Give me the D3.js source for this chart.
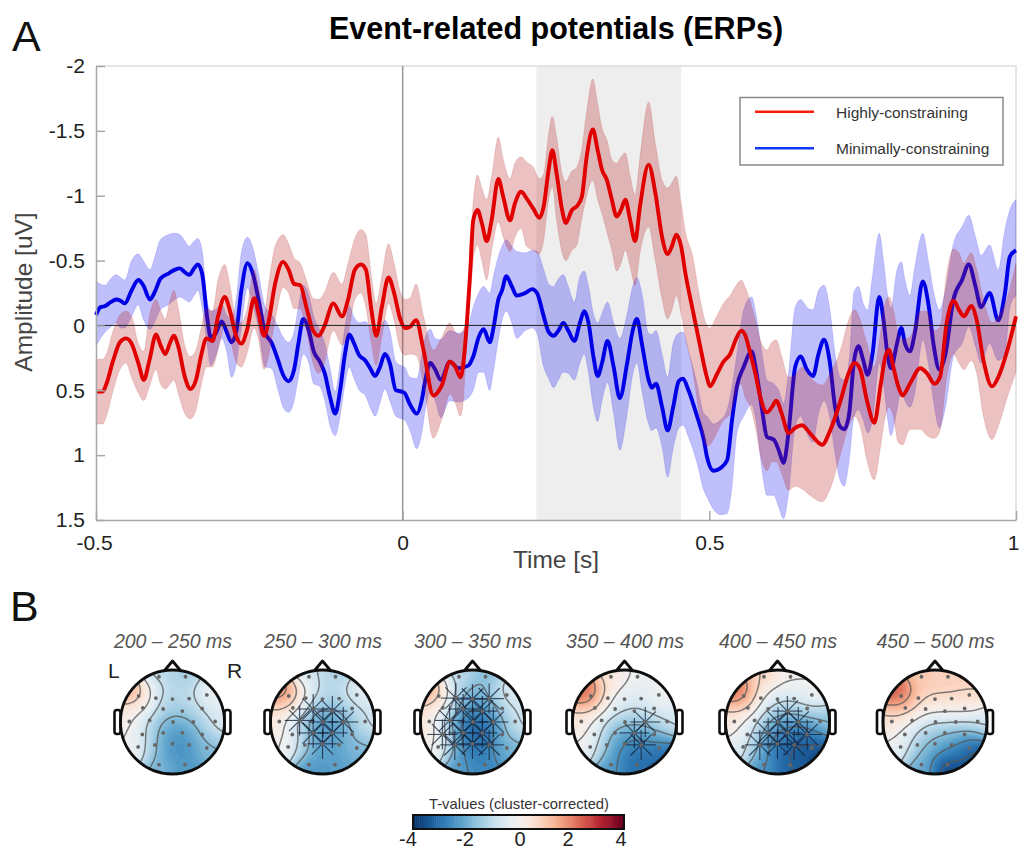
<!doctype html>
<html lang="en">

<head>
    <meta charset="utf-8">
    <title>Event-related potentials (ERPs)</title>
    <style>
        body {
            margin: 0;
            background: #fff;
        }

        svg {
            display: block;
            font-family: "Liberation Sans", Arial, sans-serif;
        }

        .tick line,
        .domain {
            stroke: #a8a8a8;
            stroke-width: 1.5;
        }

        .tick text {
            font-size: 21px;
            fill: #222;
        }
    </style>
</head>

<body>
    <svg id="chart" width="1019" height="850"></svg>
    <script src="https://d3js.org/d3.v7.min.js"></script>
    <script>

        // ERP traces: time in ms, amplitude in uV
        const redTime = [
            -500, -489, -483, -472, -461, -451, -442, -431, -422, -413,
            -402, -395, -387, -379, -373, -366, -355, -346, -337, -328,
            -320, -310, -301, -290, -282, -271, -263, -254, -242, -235,
            -226, -219, -208, -195, -186, -177, -167, -157, -146, -137,
            -128, -113, -99, -89, -78, -68, -60, -51, -43, -34,
            -23, -14, -4, 4, 12,
            22, 34, 50, 64, 77, 86, 94, 99, 105, 110,
            115, 122, 129, 137, 145, 156, 164, 175, 183, 193,
            202, 213, 223, 230, 238, 244, 251, 260, 266, 276,
            284, 292, 300, 310, 318, 325, 333, 341, 349, 356,
            363, 371, 379, 387, 401, 412, 423, 432, 439, 446,
            454, 461, 472, 485, 496,
            501, 512, 523, 534, 544, 552, 558, 567, 575, 583,
            594, 602, 609, 618, 629, 640, 651, 664, 684, 697,
            714, 727, 737, 746, 757, 769, 779, 787, 793, 800,
            808, 815, 827, 844, 855, 867, 876, 887, 898, 907,
            915, 927, 936, 947, 961, 971, 986, 1000
        ];
        const redMean = [
            .51, .51, .45, .27, .13, .10, .14, .29, .42, .27,
            .07, .15, .22, .13, .08, .16, .40, .49, .42, .22,
            .10, .12, -.07, -.22, -.12, .09, .14, .04, -.21, -.09,
            .08, -.02, -.32, -.49, -.43, -.32, -.31, -.14, .04, .08,
            .01, -.17, -.07, -.20, -.43, -.47, -.43, -.12, .08, -.14,
            -.37, -.25, -.05, .02, .01,
            -.04, .19, .54, .46, .28, .32, .40, .29, -.04, -.40,
            -.81, -.89, -.79, -.65, -.81, -1.13, -.99, -.81, -.94, -1.03,
            -.98, -.90, -.83, -.92, -1.20, -1.35, -1.17, -.89, -.79, -.89,
            -.92, -.99, -1.30, -1.51, -1.35, -1.20, -1.12, -.97, -.84, -.89,
            -.97, -.81, -.65, -.92, -1.24, -1.02, -.68, -.55, -.61, -.70,
            -.61, -.40, -.14, .16, .40,
            .47, .38, .28, .22, .10, .04, .07, .22, .37, .55,
            .67, .63, .58, .68, .83, .79, .77, .83, .92, .81,
            .58, .37, .29, .34, .58, .75, .47, .24, .19, .32,
            .47, .54, .45, .33, .37, .45, .40, -.02, -.19, -.12,
            -.07, -.15, -.04, .27, .47, .40, .19, -.07
        ];
        const redUpper = [
            .26, .26, .22, .04, -.08, -.11, -.07, .14, .20, -.07,
            -.20, -.12, -.05, -.20, -.27, -.14, .16, .24, .19, .01,
            -.13, -.11, -.35, -.47, -.32, -.04, -.02, -.12, -.43, -.30,
            -.07, -.30, -.61, -.70, -.63, -.52, -.48, -.35, -.21, -.20,
            -.25, -.41, -.32, -.48, -.67, -.74, -.70, -.38, -.17, -.38,
            -.63, -.48, -.26, -.20, -.21,
            -.32, -.07, .19, .09, -.02, .05, .07, .03, -.04, -.60,
            -.95, -1.16, -1.06, -.97, -1.15, -1.45, -1.28, -1.13, -1.25, -1.30,
            -1.26, -1.22, -1.13, -1.17, -1.48, -1.61, -1.45, -1.17, -1.11, -1.19,
            -1.22, -1.36, -1.65, -1.90, -1.71, -1.52, -1.43, -1.28, -1.25, -1.30,
            -1.33, -1.15, -1.01, -1.30, -1.72, -1.40, -1.12, -1.06, -1.10, -1.15,
            -.94, -.72, -.55, -.20, 0,
            .02, -.07, -.17, -.23, -.31, -.35, -.30, -.18, -.04, .11,
            .19, .13, .11, .24, .40, .38, .32, .40, .46, .37,
            .19, -.04, -.12, -.04, .14, .32, .06, -.18, -.22, -.12,
            .07, .11, .09, -.11, -.11, .04, .01, -.40, -.59, -.56,
            -.48, -.56, -.43, -.20, -.02, -.07, -.22, -.48
        ];
        const redLower = [
            .76, .76, .70, .50, .34, .29, .40, .52, .58, .47,
            .34, .45, .49, .45, .42, .52, .68, .72, .65, .45,
            .32, .32, .19, 0, .09, .29, .32, .22, .02, .11,
            .34, .24, -.04, -.29, -.25, -.13, -.13, .04, .29, .37,
            .29, .04, .15, .06, -.20, -.25, -.14, .14, .31, .09,
            -.17, -.04, .18, .23, .22,
            .23, .45, .87, .72, .53, .60, .70, .57, .06, -.20,
            -.50, -.62, -.50, -.35, -.58, -.80, -.68, -.57, -.68, -.75,
            -.61, -.58, -.55, -.66, -.97, -1.07, -.81, -.56, -.50, -.58,
            -.62, -.82, -1.00, -1.12, -.97, -.86, -.72, -.58, -.42, -.48,
            -.58, -.45, -.31, -.56, -.76, -.50, -.20, -.05, -.12, -.23,
            -.09, .09, .32, .72, .93,
            .92, .83, .73, .68, .52, .45, .55, .63, .78, .99,
            1.12, 1.05, 1.05, 1.14, 1.27, 1.24, 1.26, 1.31, 1.36, 1.26,
            .99, .78, .70, .78, 1.04, 1.19, .94, .70, .63, .70,
            .90, .92, .80, .80, .85, .87, .81, .40, .22, .29,
            .34, .27, .37, .70, .88, .78, .55, .36
        ];

        const blueTime = [
            -500, -493, -485, -476, -467, -460, -453, -442, -431, -423,
            -412, -404, -395, -382, -371, -363, -355, -348, -340, -334,
            -327, -319, -313, -306, -295, -287, -279, -271, -263, -253,
            -245, -235, -224, -214, -203, -195, -186, -177, -170, -162,
            -153, -145, -135, -127, -118, -110, -102, -94, -87, -80,
            -71, -61, -53, -45, -37, -29, -21, -11, -2, 3,
            12,
            23, 31, 37, 45, 53, 62, 77, 91, 107, 115,
            124, 132, 142, 148, 156, 162, 169, 178, 186, 200,
            211, 219, 230, 238, 246, 254, 262, 270, 280, 289,
            296, 303, 311, 318, 325, 334, 344, 354, 366, 375,
            382, 390, 401, 406, 413, 423, 432, 441, 450, 457,
            466, 480, 491,
            496, 507, 518, 529, 537, 545, 556, 569, 576, 586,
            594, 605, 613, 621, 629, 640, 649, 659, 669, 678,
            687, 696, 705, 713, 720, 728, 736, 743, 751, 758,
            766, 777, 784, 791, 796, 806, 813, 819, 827, 835,
            848, 857, 866, 875, 885, 898, 912, 923, 934, 943,
            957, 971, 982, 990, 1000
        ];
        const blueMean = [
            -.08, -.14, -.15, -.18, -.20, -.19, -.17, -.27, -.35, -.31,
            -.20, -.26, -.36, -.40, -.43, -.44, -.41, -.39, -.44, -.47,
            -.40, -.07, .09, .07, -.03, .05, .13, .04, -.27, -.48,
            -.41, -.20, .06, .13, .27, .38, .43, .34, .14, -.05,
            .04, .20, .28, .37, .56, .68, .50, .22, .07, .13,
            .23, .27, .33, .39, .32, .22, .29, .50, .51, .52,
            .61,
            .68, .58, .42, .29, .34, .42, .28, .33, .31, .24,
            .09, .03, .13, .02, -.20, -.27, -.38, -.30, -.23, -.25,
            -.28, -.25, -.07, .05, .08, .04, -.02, .04, .12, -.02,
            -.11, -.02, .24, .39, .29, .12, .32, .56, .29, .04,
            -.05, .14, .42, .48, .45, .63, .81, .63, .43, .41,
            .50, .70, .88,
            1.01, 1.12, 1.10, 1.04, .73, .47, .32, .20, .34, .65,
            .86, .88, .96, 1.06, .83, .32, .24, .34, .39, .22,
            .11, .27, .63, .78, .80, .68, .27, .16, .27, .38,
            .22, -.22, -.04, .24, .33, .14, .02, .14, .20, .06,
            -.34, -.17, .16, .34, .22, -.20, -.35, -.47, -.30, -.14,
            -.25, -.04, -.25, -.53, -.58
        ];
        const blueUpper = [
            -.34, -.32, -.31, -.36, -.39, -.37, -.35, -.50, -.55, -.50,
            -.43, -.53, -.66, -.70, -.71, -.70, -.65, -.61, -.65, -.67,
            -.58, -.20, -.11, -.12, -.16, -.08, -.05, -.22, -.56, -.68,
            -.61, -.40, -.14, -.09, .01, .09, .13, .05, -.14, -.31,
            -.23, -.07, .04, .14, .34, .51, .29, .01, -.15, -.07,
            -.02, -.03, .01, .06, .04, -.04, .04, .28, .31, .32,
            .40,
            .41, .24, .09, .03, .10, .11, .04, .06, 0, -.14,
            -.25, -.30, -.25, -.38, -.53, -.61, -.66, -.61, -.57, -.56,
            -.58, -.57, -.43, -.32, -.30, -.36, -.39, -.30, -.18, -.38,
            -.42, -.30, -.09, -.02, -.09, -.18, -.02, .10, -.09, -.30,
            -.37, -.25, .06, .07, .04, .22, .40, .14, .06, .05,
            .20, .45, .68,
            .70, .76, .73, .65, .47, .22, -.12, -.22, -.09, .22,
            .42, .45, .50, .60, .37, -.14, -.20, -.14, -.12, -.27,
            -.31, -.14, .22, .40, .42, .27, -.26, -.30, -.17, -.12,
            -.38, -.71, -.50, -.22, -.13, -.43, -.49, -.35, -.23, -.45,
            -.71, -.50, -.25, -.12, -.27, -.63, -.76, -.85, -.68, -.54,
            -.62, -.43, -.74, -.89, -.97
        ];
        const blueLower = [
            .16, .10, .05, .01, -.02, .02, .02, -.07, -.16, -.05,
            .03, -.03, -.12, -.16, -.20, -.22, -.20, -.18, -.23, -.27,
            -.14, .14, .31, .25, .10, .20, .40, .29, .01, -.29,
            -.17, .02, .32, .33, .50, .63, .67, .58, .40, .22,
            .29, .45, .47, .58, .78, .85, .70, .45, .32, .40,
            .50, .54, .63, .70, .60, .49, .58, .70, .72, .73,
            .81,
            .95, .83, .65, .51, .58, .71, .58, .59, .56, .50,
            .36, .36, .50, .35, .11, -.04, -.11, -.02, .10, .04,
            .02, .06, .32, .41, .48, .42, .36, .37, .42, .29,
            .22, .37, .63, .74, .58, .44, .68, .96, .68, .38,
            .29, .50, .76, .81, .79, .94, 1.17, .95, .79, .77,
            .86, 1.06, 1.27,
            1.32, 1.42, 1.46, 1.45, 1.24, .83, .70, .61, .73, 1.12,
            1.31, 1.31, 1.40, 1.49, 1.30, .78, .70, .83, .90, .68,
            .58, .70, .99, 1.19, 1.24, 1.04, .70, .65, .73, .83,
            .73, .29, .45, .73, .85, .65, .50, .58, .63, .52,
            .11, .29, .60, .79, .63, .24, .14, .01, .16, .29,
            .14, .27, .22, -.14, -.23
        ];

        const xTicks = [-500, 0, 500, 1000];
        const xTickLabels = ["-0.5", "0", "0.5", "1"];
        const yTicks = [-2, -1.5, -1, -0.5, 0, 0.5, 1, 1.5];
        const clusterWindow = [218, 454];
        const seriesNames = ["Highly-constraining", "Minimally-constraining"];

        // topographies: channel name, position on the head, T-value per channel
        const channels = ["Fp1", "Fp2", "F7", "F3", "Fz", "F4", "F8", "FC5", "FC1", "FC2", "FC6",
            "T7", "C3", "Cz", "C4", "T8", "CP5", "CP1", "CP2", "CP6", "P7", "P3", "Pz", "P4", "P8", "O1", "O2"];
        const channelX = [-.26, .25, -.65, -.32, 0, .32, .66, -.57, -.18, .19, .57,
        -.83, -.44, .01, .40, .82, -.58, -.18, .19, .57, -.66, -.34, 0, .32, .66, -.26, .24];
        const channelY = [-.87, -.87, -.50, -.46, -.44, -.45, -.52, -.27, -.25, -.21, -.26,
        -.01, -.03, 0, 0, -.01, .24, .21, .21, .24, .48, .44, .42, .44, .50, .82, .82];

        const topoLabels = ["200 – 250 ms", "250 – 300 ms", "300 – 350 ms", "350 – 400 ms", "400 – 450 ms", "450 – 500 ms"];
        const topo200 = [-1, -1.3, 1.7, -.5, -1.1, -1, -.05, .4, -1.3, -1.3, -.6,
        .3, -1.3, -2, -1.7, -.4, -.3, -1.9, -2.5, -1.3, .1, -1.8, -2.5, -2.4, -1.7, -1.8, -2.3];
        const topo250 = [-.7, -1.2, 2.3, .1, -1, -1, -.2, .8, -1.7, -1.9, -.9,
        .5, -1.6, -2.4, -2.1, -.6, .1, -1.9, -2.4, -1.3, .1, -1.6, -2.2, -2.1, -1.8, -2.3, -2.2];
        const topo300 = [-1, -1.6, 1.7, -1, -1.9, -1.5, -.3, .5, -2.5, -2.7, -.9,
        .6, -2.1, -3.1, -2.7, -.6, .3, -2.8, -3.4, -1.4, .2, -2, -3, -2.6, -1.9, -2.3, -2.6];
        const topo350 = [.5, -.1, 2.8, .4, -.2, -.4, .1, 1.1, -.8, -1, -.4,
        .5, -.9, -1.3, -1.4, -.6, .1, -1.7, -2.2, -1.6, -.1, -2, -2.8, -3, -3.2, -2.3, -3];
        const topo400 = [.8, .1, 2.6, .4, -.2, -.3, .1, 1, -1.3, -1.7, -.9,
        .5, -.9, -2, -2.3, -1.5, -.1, -1.9, -2.8, -2.8, -.4, -2.1, -3.1, -3.4, -3.6, -2.4, -3.2];
        const topo450 = [1, 1, 2.9, 1.1, 1, .9, .9, 1.3, .1, .2, .3,
        .6, -.2, -.8, -.8, -.6, .1, -1.1, -1.6, -1.9, -.2, -1.7, -2.1, -2.5, -3.6, -2, -3.6];
        const topoValues = [topo200, topo250, topo300, topo350, topo400, topo450];

        // channels in the significant cluster for each window
        const clusterChannels = [
            [],
            ["FC1", "FC2", "C3", "Cz", "C4", "CP1", "CP2", "Pz"],
            ["F3", "Fz", "F4", "FC1", "FC2", "C3", "Cz", "C4", "CP5", "CP1", "CP2", "P3", "Pz", "P4"],
            ["C4", "CP2", "P4"],
            ["FC2", "Cz", "C4", "CP1", "CP2", "CP6", "P3", "Pz", "P4"],
            []
        ];
        const contourLevels = [-3.2, -2.4, -1.6, -.8, 0, .8, 1.6, 2.4];
        const colorbarTicks = [-4, -2, 0, 2, 4];

        const svg = d3.select("#chart");

        // panel A
        const x = d3.scaleLinear().domain([-500, 1000]).range([96, 1016]);
        const y = d3.scaleLinear().domain([-2, 1.5]).range([66, 520]);

        svg.append("rect")
            .attr("x", x(clusterWindow[0]))
            .attr("y", y(-2))
            .attr("width", x(clusterWindow[1]) - x(clusterWindow[0]))
            .attr("height", y(1.5) - y(-2))
            .attr("fill", "#eeeeee");

        // light top and right edges of the box
        svg.append("path")
            .attr("d", `M${x(-500)},${y(-2)}H${x(1000)}V${y(1.5)}`)
            .attr("fill", "none")
            .attr("stroke", "#dddddd")
            .attr("stroke-width", 1.5);

        svg.append("line")
            .attr("x1", x(0)).attr("x2", x(0))
            .attr("y1", y(-2)).attr("y2", y(1.5))
            .attr("stroke", "#999999")
            .attr("stroke-width", 1.5);

        function drawSeries(time, mean, upper, lower, bandColor, lineColor) {
            const idx = d3.range(time.length);
            const band = d3.area()
                .curve(d3.curveMonotoneX)
                .x(i => x(time[i]))
                .y0(i => y(lower[i]))
                .y1(i => y(upper[i]));
            const line = d3.line()
                .curve(d3.curveMonotoneX)
                .x(i => x(time[i]))
                .y(i => y(mean[i]));
            svg.append("path")
                .attr("d", band(idx))
                .attr("fill", bandColor)
                .attr("fill-opacity", 0.28)
                .attr("stroke", bandColor)
                .attr("stroke-opacity", 0.15);
            svg.append("path")
                .attr("d", line(idx))
                .attr("fill", "none")
                .attr("stroke", lineColor)
                .attr("stroke-width", 3.9)
                .attr("stroke-linejoin", "round");
        }

        // red goes last: its band tints the blue line
        drawSeries(blueTime, blueMean, blueUpper, blueLower, "#1a1af0", "#0000e6");
        drawSeries(redTime, redMean, redUpper, redLower, "#b82020", "#e00000");

        svg.append("line")
            .attr("x1", x(-500)).attr("x2", x(1000))
            .attr("y1", y(0)).attr("y2", y(0))
            .attr("stroke", "#222")
            .attr("stroke-width", 1);

        const xAxis = d3.axisBottom(x)
            .tickValues(xTicks)
            .tickFormat((d, i) => xTickLabels[i])
            .tickSizeInner(-9)
            .tickSizeOuter(0)
            .tickPadding(15);
        const xG = svg.append("g")
            .attr("transform", `translate(0,${y(1.5)})`)
            .call(xAxis);
        // the last label sits on the page edge
        xG.selectAll(".tick text")
            .filter(d => d === 1000)
            .attr("text-anchor", "end")
            .attr("dx", 3);
        xG.selectAll(".tick text")
            .filter(d => d === -500)
            .attr("dx", -2);

        const yAxis = d3.axisLeft(y)
            .tickValues(yTicks)
            .tickFormat(d => String(d))
            .tickSizeInner(-9)
            .tickSizeOuter(0)
            .tickPadding(11);
        svg.append("g")
            .attr("transform", `translate(${x(-500)},0)`)
            .call(yAxis);

        svg.append("text")
            .attr("x", 556).attr("y", 568)
            .attr("text-anchor", "middle")
            .attr("font-size", 24.5).attr("fill", "#444")
            .text("Time [s]");
        svg.append("text")
            .attr("transform", "translate(32,292) rotate(-90)")
            .attr("text-anchor", "middle")
            .attr("font-size", 24.5).attr("fill", "#444")
            .text("Amplitude [uV]");

        svg.append("text")
            .attr("x", 556).attr("y", 39)
            .attr("text-anchor", "middle")
            .attr("font-size", 30.5).attr("font-weight", "bold").attr("fill", "#000")
            .text("Event-related potentials (ERPs)");
        svg.append("text").attr("x", 12).attr("y", 51)
            .attr("font-size", 43).attr("fill", "#111").text("A");
        svg.append("text").attr("x", 10).attr("y", 621)
            .attr("font-size", 43).attr("fill", "#111").text("B");

        // legend
        const legend = svg.append("g");
        legend.append("rect")
            .attr("x", 740).attr("y", 97.5)
            .attr("width", 263).attr("height", 67.5)
            .attr("fill", "#fff")
            .attr("stroke", "#8a8a8a").attr("stroke-width", 1.5);
        seriesNames.forEach((name, i) => {
            const ly = 111.7 + i * 36.6;
            legend.append("line")
                .attr("x1", 755).attr("x2", 814)
                .attr("y1", ly).attr("y2", ly)
                .attr("stroke", ["#f5200c", "#1038f5"][i])
                .attr("stroke-width", 2.6);
            legend.append("text")
                .attr("x", 836).attr("y", ly + 6)
                .attr("font-size", 15.5).attr("fill", "#333")
                .text(name);
        });

        // panel B
        const tColor = d3.scaleLinear().domain([-4, 4]).range([1, 0]);
        const colorOf = v => d3.interpolateRdBu(tColor(v));

        const defs = svg.append("defs");
        defs.append("filter").attr("id", "soft")
            .append("feGaussianBlur").attr("stdDeviation", 0.6);

        const headCentres = [172.5, 322.5, 472.5, 624.5, 777.5, 935];
        const headY = 722;
        const headR = 52;
        const gridN = 80;

        // smooth the channel values onto a grid (gaussian-weighted mean)
        function topoGrid(values) {
            const grid = new Array(gridN * gridN);
            const s2 = 2 * 0.21 * 0.21;
            for (let j = 0; j < gridN; j++) {
                for (let i = 0; i < gridN; i++) {
                    const gx = (i + 0.5) / gridN * 2 - 1;
                    const gy = (j + 0.5) / gridN * 2 - 1;
                    let sum = 0, wsum = 0;
                    values.forEach((v, k) => {
                        const d2 = (gx - channelX[k]) ** 2 + (gy - channelY[k]) ** 2;
                        const w = Math.exp(-d2 / s2) + 1e-9;
                        sum += w * v;
                        wsum += w;
                    });
                    grid[j * gridN + i] = sum / wsum;
                }
            }
            return grid;
        }

        topoLabels.forEach((label, p) => {
            const cx = headCentres[p];
            const g = svg.append("g").attr("transform", `translate(${cx},${headY})`);
            const clipId = "head" + p;
            defs.append("clipPath").attr("id", clipId)
                .append("circle").attr("r", headR);

            const grid = topoGrid(topoValues[p]);
            const path = d3.geoPath(d3.geoIdentity()
                .scale(2 * headR / gridN)
                .translate([-headR, -headR]));
            const fillLevels = d3.range(-4, 4.01, 0.1);
            const contours = d3.contours().size([gridN, gridN]);

            const map = g.append("g")
                .attr("clip-path", `url(#${clipId})`)
                .attr("filter", "url(#soft)");
            map.append("circle").attr("r", headR).attr("fill", colorOf(d3.min(grid)));
            map.selectAll("path.fill")
                .data(contours.thresholds(fillLevels)(grid))
                .join("path")
                .attr("class", "fill")
                .attr("d", path)
                .attr("fill", d => colorOf(d.value));
            map.selectAll("path.iso")
                .data(contours.thresholds(contourLevels)(grid))
                .join("path")
                .attr("class", "iso")
                .attr("d", path)
                .attr("fill", "none")
                .attr("stroke", "#555")
                .attr("stroke-opacity", 0.75)
                .attr("stroke-width", 1.5);

            const r = d3.scaleLinear().domain([-1, 1]).range([-headR, headR]);

            // cluster stars
            const stars = g.append("g").attr("filter", "url(#soft)");
            clusterChannels[p].forEach(name => {
                const k = channels.indexOf(name);
                d3.range(4).forEach(a => {
                    const ang = a * Math.PI / 4;
                    const dx = Math.cos(ang) * 15, dy = Math.sin(ang) * 15;
                    stars.append("line")
                        .attr("x1", r(channelX[k]) - dx).attr("x2", r(channelX[k]) + dx)
                        .attr("y1", r(channelY[k]) - dy).attr("y2", r(channelY[k]) + dy)
                        .attr("stroke", "#152038")
                        .attr("stroke-opacity", 0.8)
                        .attr("stroke-width", 1.1);
                });
            });

            // channel dots
            g.append("g").attr("filter", "url(#soft)")
                .selectAll("circle")
                .data(channels)
                .join("circle")
                .attr("cx", (d, k) => r(channelX[k]))
                .attr("cy", (d, k) => r(channelY[k]))
                .attr("r", 1.9)
                .attr("fill", "#666");

            // head outline, nose and ears
            const outline = g.append("g").attr("filter", "url(#soft)")
                .attr("fill", "none").attr("stroke", "#111").attr("stroke-width", 2.8);
            outline.append("circle").attr("r", headR);
            outline.append("path")
                .attr("d", `M${-8},${-headR + 0.5}L0,${-headR - 9}L8,${-headR + 0.5}`)
                .attr("stroke-linejoin", "round");
            [-1, 1].forEach(side => {
                outline.append("rect")
                    .attr("x", side < 0 ? -headR - 6 : headR)
                    .attr("y", -12)
                    .attr("width", 6).attr("height", 24)
                    .attr("rx", 2.5)
                    .attr("stroke-width", 2.6);
            });

            svg.append("text")
                .attr("x", cx + 0.5).attr("y", 648)
                .attr("text-anchor", "middle")
                .attr("font-size", 19.5).attr("font-style", "italic")
                .attr("fill", "#555")
                .text(label);
        });

        svg.append("text").attr("x", 108).attr("y", 678)
            .attr("font-size", 21).attr("fill", "#222").text("L");
        svg.append("text").attr("x", 227).attr("y", 678)
            .attr("font-size", 21).attr("fill", "#222").text("R");

        // colorbar
        const cb = d3.scaleLinear().domain([-4, 4]).range([413, 624]);
        const cbLabelX = d3.scaleLinear().domain(colorbarTicks).range([408, 465, 520, 568, 621]);
        svg.append("g").selectAll("rect")
            .data(d3.range(-4, 4, 0.08))
            .join("rect")
            .attr("x", d => cb(d))
            .attr("y", 815)
            .attr("width", cb(0.08) - cb(0) + 0.5)
            .attr("height", 14)
            .attr("fill", d => colorOf(d + 0.04));
        svg.append("rect")
            .attr("x", 413).attr("y", 815)
            .attr("width", 211).attr("height", 14)
            .attr("fill", "none")
            .attr("stroke", "#111").attr("stroke-width", 2);
        svg.append("g").selectAll("text")
            .data(colorbarTicks)
            .join("text")
            .attr("x", d => cbLabelX(d))
            .attr("y", 845.5)
            .attr("text-anchor", "middle")
            .attr("font-size", 20)
            .attr("fill", "#222")
            .text(d => String(d));
        svg.append("text")
            .attr("x", 519).attr("y", 809)
            .attr("text-anchor", "middle")
            .attr("font-size", 14.8)
            .attr("fill", "#333")
            .text("T-values (cluster-corrected)");

    </script>
</body>

</html>
